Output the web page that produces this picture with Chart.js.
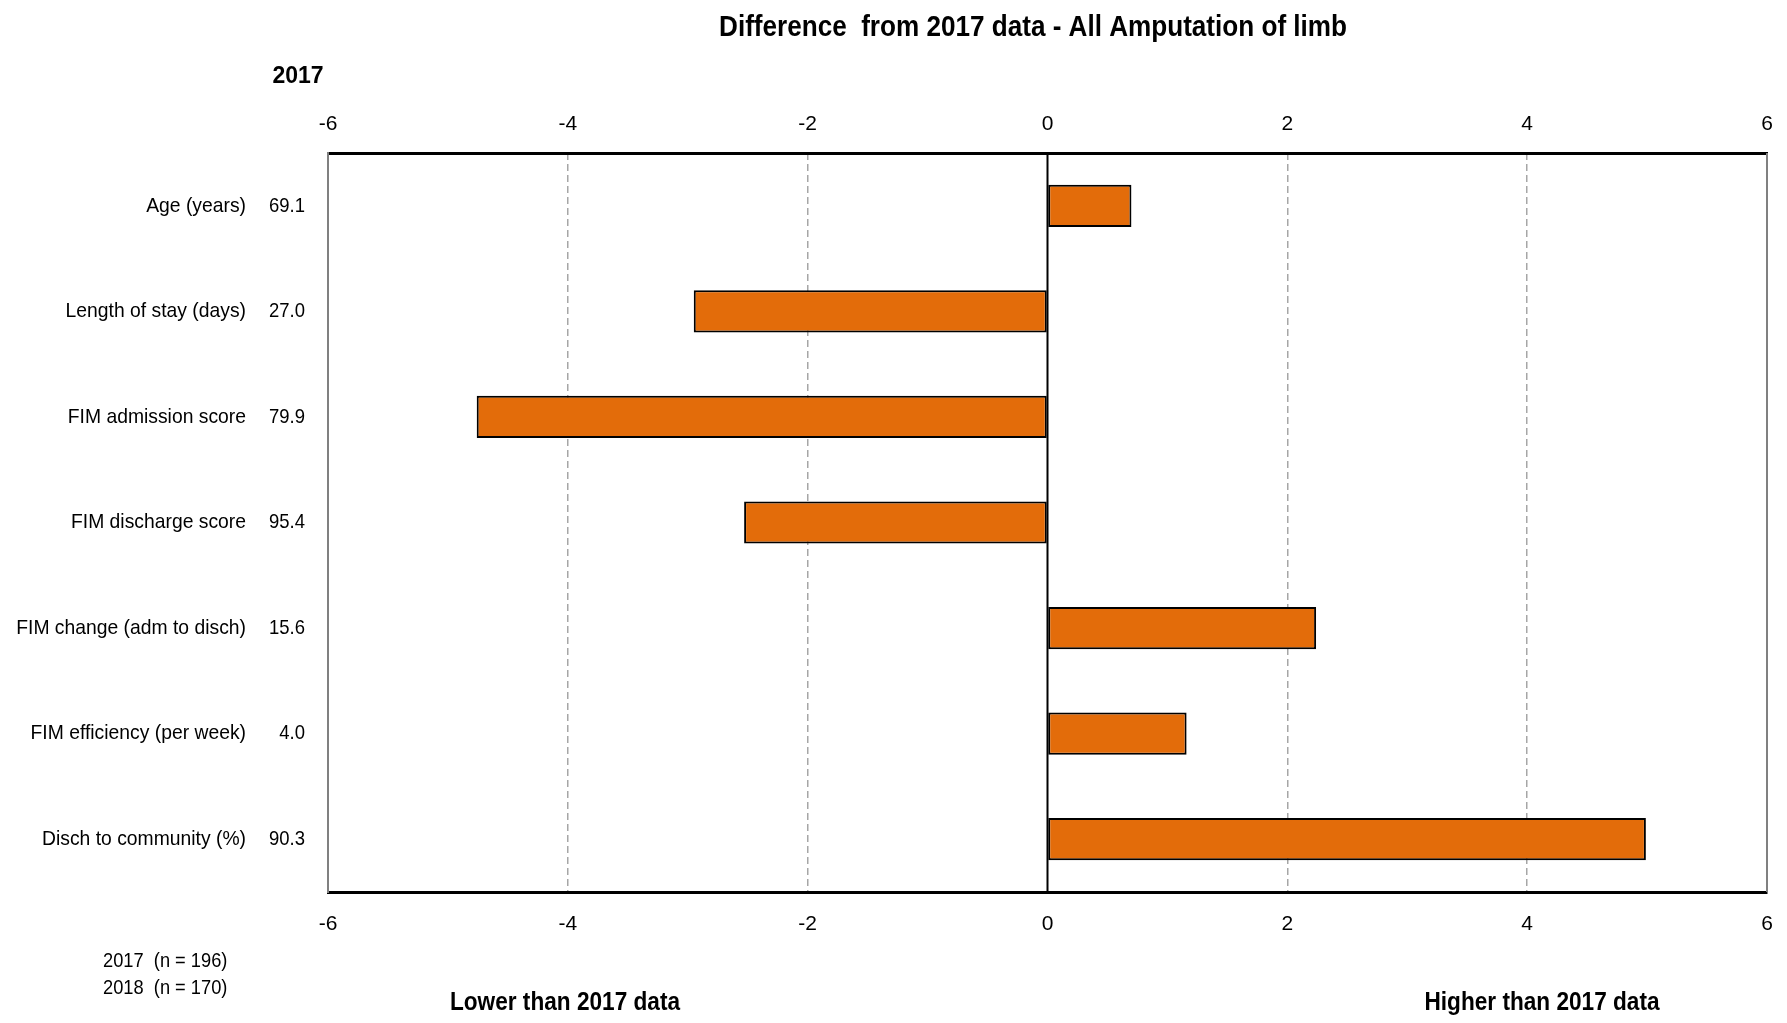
<!DOCTYPE html>
<html>
<head>
<meta charset="utf-8">
<script src="https://cdn.jsdelivr.net/npm/chart.js@4"></script>
<style>
  html, body { margin: 0; padding: 0; background: #fff; overflow: hidden; }
  #wrap { width: 1787px; height: 1023px; position: relative; }
</style>
</head>
<body>
<div id="wrap"><canvas id="chart"></canvas></div>
<script>
const categories = [
  'Age (years)',
  'Length of stay (days)',
  'FIM admission score',
  'FIM discharge score',
  'FIM change (adm to disch)',
  'FIM efficiency (per week)',
  'Disch to community (%)'
];
const values2017 = ['69.1', '27.0', '79.9', '95.4', '15.6', '4.0', '90.3'];
const diffFrom2017 = [0.70, -2.95, -4.76, -2.53, 2.24, 1.16, 4.99];
const xMin = -6, xMax = 6, xStep = 2;
const sampleNotes = ['2017  (n = 196)', '2018  (n = 170)'];

const FONT = "'Liberation Sans', Arial, sans-serif";
const ORANGE = '#e36c0a';

// the original uses a narrow face; squeeze Liberation Sans horizontally
function narrow(ctx, text, x, y, size, opt = {}) {
  ctx.save();
  ctx.font = (opt.bold ? 'bold ' : '') + size + 'px ' + FONT;
  ctx.textAlign = opt.align || 'left';
  ctx.textBaseline = 'middle';
  ctx.fillStyle = '#000';
  ctx.translate(x, y);
  ctx.scale(opt.sx || 0.9, 1);
  ctx.fillText(text, 0, 0);
  ctx.restore();
}

const decor = {
  id: 'decor',
  beforeDatasetsDraw(chart) {
    const { ctx, chartArea: a, scales } = chart;
    const x0 = scales.x.getPixelForValue(0);
    ctx.save();
    ctx.strokeStyle = '#000';
    ctx.lineWidth = 2;
    ctx.beginPath();
    ctx.moveTo(x0, a.top);
    ctx.lineTo(x0, a.bottom);
    ctx.stroke();
    ctx.restore();
  },
  afterDraw(chart) {
    const { ctx, chartArea: a, scales } = chart;
    ctx.save();
    ctx.strokeStyle = '#808080';
    ctx.lineWidth = 2;
    ctx.beginPath();
    ctx.moveTo(a.right, a.top);
    ctx.lineTo(a.right, a.bottom);
    ctx.stroke();
    ctx.restore();

    // category labels + 2017 values
    chart.data.labels.forEach((lab, i) => {
      const y = scales.y.getPixelForValue(i);
      narrow(ctx, lab, 246, y, 21, { align: 'right', sx: 0.92 });
      narrow(ctx, values2017[i], 305, y, 21, { align: 'right', sx: 0.88 });
    });

    narrow(ctx, 'Difference  from 2017 data - All Amputation of limb', 1033, 28, 29, { bold: true, align: 'center', sx: 0.9 });
    narrow(ctx, '2017', 298, 77, 23, { bold: true, align: 'center', sx: 1.0 });
    sampleNotes.forEach((t, i) => narrow(ctx, t, 103, 961 + i * 27, 21, { sx: 0.87 }));
    narrow(ctx, 'Lower than 2017 data', 565, 1003, 26, { bold: true, align: 'center', sx: 0.87 });
    narrow(ctx, 'Higher than 2017 data', 1542, 1003, 26, { bold: true, align: 'center', sx: 0.87 });
  }
};

const tickFont = { family: FONT, size: 21 };
const noOverhang = s => { s.paddingLeft = 0; s.paddingRight = 0; };

new Chart(document.getElementById('chart'), {
  type: 'bar',
  data: {
    labels: categories,
    datasets: [{
      data: diffFrom2017,
      backgroundColor: ORANGE,
      borderColor: '#000',
      borderWidth: 2,
      borderSkipped: false,
      barPercentage: 0.4,
      categoryPercentage: 1
    }]
  },
  options: {
    indexAxis: 'y',
    responsive: true, maintainAspectRatio: false, animation: false,
    layout: { padding: { top: 95, right: 20, bottom: 0, left: 0 } },
    plugins: { legend: { display: false }, tooltip: { enabled: false }, title: { display: false } },
    scales: {
      x: {
        position: 'bottom', min: xMin, max: xMax,
        afterFit: s => { s.height = 131; noOverhang(s); },
        ticks: { stepSize: xStep, color: '#000', font: tickFont, padding: 20 },
        grid: {
          drawTicks: false, lineWidth: 1.5,
          color: c => (c.tick.value === 0 || Math.abs(c.tick.value) === 6) ? 'rgba(0,0,0,0)' : '#a6a6a6'
        },
        border: { display: true, color: '#000', width: 3, dash: [7, 4] }
      },
      x2: {
        position: 'top', axis: 'x', min: xMin, max: xMax,
        afterFit: s => { s.height = 58; noOverhang(s); },
        ticks: { stepSize: xStep, color: '#000', font: tickFont, padding: 16 },
        grid: { display: false, drawTicks: false },
        border: { display: true, color: '#000', width: 3 }
      },
      y: {
        afterFit: s => { s.width = 328; },
        ticks: { display: false },
        grid: { display: false, drawTicks: false },
        border: { display: true, color: '#808080', width: 2 }
      }
    }
  },
  plugins: [decor]
});
</script>
</body>
</html>
